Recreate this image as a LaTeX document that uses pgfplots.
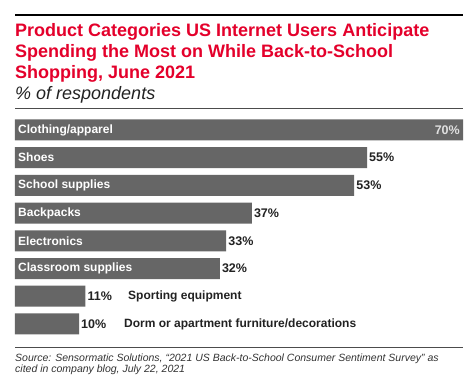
\documentclass[border=0pt]{standalone}
\usepackage{pgfplots}
\pgfplotsset{compat=1.18}
\usepackage{fontspec}
\setmainfont{Liberation Sans}
\definecolor{emred}{HTML}{E4002B}
\definecolor{bargray}{HTML}{666666}
\definecolor{txt}{HTML}{222222}
\begin{document}
\begin{tikzpicture}[x=1pt,y=1pt]
\useasboundingbox[fill=white] (0,0) rectangle (475,-375);
\draw[line width=2.5pt] (15,-15) -- (463,-15);
\node[anchor=base west, inner sep=0, text=emred, font=\fontsize{18}{21}\selectfont\bfseries] at (15,-36) {Product Categories US Internet Users Anticipate};
\node[anchor=base west, inner sep=0, text=emred, font=\fontsize{18}{21}\selectfont\bfseries] at (15,-57) {Spending the Most on While Back-to-School};
\node[anchor=base west, inner sep=0, text=emred, font=\fontsize{18}{21}\selectfont\bfseries] at (15,-78) {Shopping, June 2021};
\node[anchor=base west, inner sep=0, text=txt, font=\fontsize{18}{21}\selectfont\itshape] at (15,-99) {\% of respondents};
\draw[line width=0.8pt, black!70] (15,-108) -- (463,-108);
\draw[line width=0.8pt, black!70] (15,-347.5) -- (463,-347.5);
\node[anchor=base west, inner sep=0, text=black!80, font=\fontsize{10.5}{12}\selectfont\itshape] at (15,-361) {Source: Sensormatic Solutions, ``2021 US Back-to-School Consumer Sentiment Survey'' as};
\node[anchor=base west, inner sep=0, text=black!80, font=\fontsize{10.5}{12}\selectfont\itshape] at (15,-372.5) {cited in company blog, July 22, 2021};
\begin{axis}[at={(15pt,-337.8pt)}, anchor=south west, scale only axis,
  width=448pt, height=221.7pt, xmin=0, xmax=70, ymin=-0.5, ymax=7.5,
  y dir=reverse, hide axis, clip=false,
  /pgf/number format/assume math mode=true]
% bars
\addplot[xbar, bar width=21pt, fill=bargray, draw=none] table[x=v, y=i] {
i v
0 70
1 55
2 53
3 37
4 33
5 32
6 11
7 10
};
% value labels outside
\addplot[draw=none, point meta=x, nodes near coords={\pgfmathprintnumber{\pgfplotspointmeta}\%},
  every node near coord/.style={anchor=west, xshift=2pt, inner sep=0, text=txt, font=\fontsize{12.5}{14}\selectfont\bfseries}]
  table[x=v, y=i] {
i v
1 55
2 53
3 37
4 33
5 32
6 11
7 10
};
% value label inside first bar
\addplot[draw=none, point meta=x, nodes near coords={\pgfmathprintnumber{\pgfplotspointmeta}\%},
  every node near coord/.style={anchor=east, xshift=-3pt, inner sep=0, text=white!88!black, font=\fontsize{12.5}{14}\selectfont\bfseries}]
  table[x=v, y=i] {
i v
0 70
};
% category labels inside bars
\addplot[draw=none, point meta=explicit symbolic, nodes near coords,
  every node near coord/.style={anchor=west, xshift=3pt, inner sep=0, text=white, font=\fontsize{12}{14}\selectfont\bfseries}]
  table[x=x, y=i, meta=lab, col sep=comma, row sep=\\] {
i,x,lab\\
0,0,Clothing/apparel\\
1,0,Shoes\\
2,0,School supplies\\
3,0,Backpacks\\
4,0,Electronics\\
5,0,Classroom supplies\\
};
% category labels outside short bars
\addplot[draw=none, point meta=explicit symbolic, nodes near coords,
  every node near coord/.style={anchor=west, inner sep=0, text=txt, font=\fontsize{12}{14}\selectfont\bfseries}]
  table[x=x, y=i, meta=lab, col sep=comma, row sep=\\] {
i,x,lab\\
6,17.66,Sporting equipment\\
7,17.03,Dorm or apartment furniture/decorations\\
};
\end{axis}
\end{tikzpicture}
\end{document}
